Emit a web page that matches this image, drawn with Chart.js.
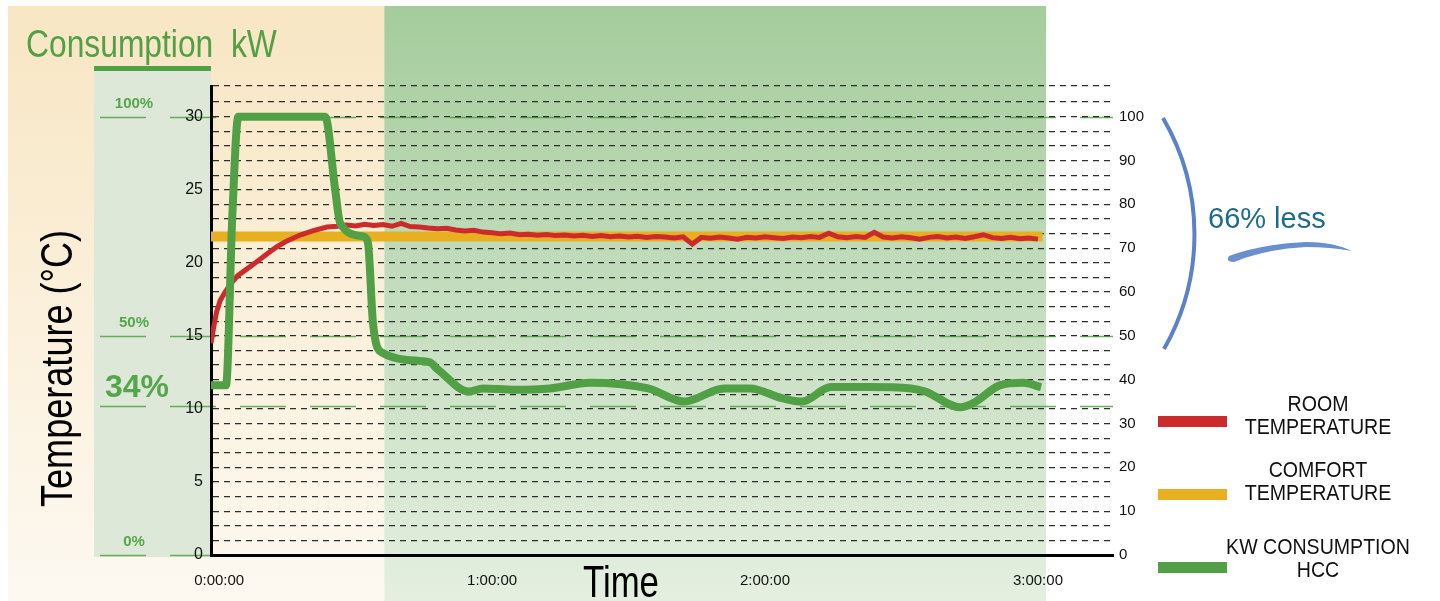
<!DOCTYPE html>
<html>
<head>
<meta charset="utf-8">
<title>Consumption kW</title>
<script src="https://cdn.jsdelivr.net/npm/chart.js@4.4.1/dist/chart.umd.min.js"></script>
<style>
  html, body { margin: 0; padding: 0; background: #fff; }
  #wrap { position: relative; width: 1440px; height: 601px; overflow: hidden;
          font-family: "Liberation Sans", Arial, sans-serif; }
  #wrap canvas { position: absolute; left: 0; top: 0; }
  .txt { position: absolute; white-space: pre; line-height: 1; }
  #kwTitle { left: 26px; top: 24px; font-size: 39px; color: #52a046;
             transform-origin: 0 0; transform: scaleX(0.815); }
  #tempTitle { left: 35px; top: 507px; font-size: 44px; color: #000;
               transform-origin: 0 0; transform: rotate(-90deg) scaleX(0.82); }
  #timeTitle { left: 583px; top: 560px; font-size: 44px; color: #000;
               transform-origin: 0 0; transform: scaleX(0.79); }
  #saving { left: 1208px; top: 204px; font-size: 29px; color: #1d6b8d; }
  .lvl { color: #55a64a; font-weight: bold; transform: translateX(-50%); }
  .legText { position: absolute; left: 1318px; font-size: 22px; line-height: 23px; color: #111;
             text-align: center; white-space: nowrap; transform: translateX(-50%) scaleX(0.89); }
  .legBar { position: absolute; left: 1158px; width: 69px; height: 11px; }
  svg { position: absolute; left: 0; top: 0; pointer-events: none; }
</style>
</head>
<body>
<div id="wrap">
  <canvas id="chart" width="1440" height="601"></canvas>
  <div class="txt" id="kwTitle">Consumption  kW</div>
  <div class="txt" id="tempTitle">Temperature (°C)</div>
  <div class="txt" id="timeTitle">Time</div>
  <div class="txt" id="saving">66% less</div>
  <svg width="1440" height="601">
    <path d="M1163 118 A231 231 0 0 1 1164 349" fill="none" stroke="#5b82c6" stroke-width="4"/>
    <path d="M1229 256 Q1262 244 1306 242 Q1334 242 1352 251 Q1330 247 1306 247 Q1266 249 1234 262 Q1225 262 1229 256 Z" fill="#6a8fcf"/>
  </svg>
</div>
<script>
// time in minutes from start
const timeTicks = [0, 60, 120, 180];
const tempLabels = [0, 5, 10, 15, 20, 25, 30];
const pctLabels = [0, 10, 20, 30, 40, 50, 60, 70, 80, 90, 100];
const tempMax = 32.1;
const pctMax = tempMax / 30 * 100; // 30 ºC on the left = 100 % on the right

// consumption levels marked in the kW panel
const levelValues = [100, 50, 34, 0];
const levelLabels = ['100%', '50%', '34%', '0%'];

// shaded period after heat-up
const savingsFrom = 36.3;
const savingsTo = 181.8;

// kW consumption HCC (% of max)
const consTime = [-1.8, 1.5, 2.9, 4.2, 23.3, 25.5, 26.6, 31.6, 32.7, 33.8, 35.6, 46.2, 48.1, 54.9, 58.0,
  64.8, 72.7, 81.5, 94.3, 102.2, 111.0, 116.7, 123.7, 128.1, 134.5, 142.4, 152.1, 155.2, 162.9, 165.9,
  171.6, 176.7, 180.7];
const consPct = [38.7, 38.7, 77.7, 100, 100, 83.3, 75.7, 72.7, 71.3, 53.0, 46.3, 44.0, 42.3, 37.3, 38.0,
  37.7, 38.0, 39.3, 38.0, 35.0, 38.0, 38.0, 35.8, 35.0, 38.3, 38.3, 38.0, 37.3, 33.7, 34.7,
  38.7, 39.3, 38.3];

// room temperature (ºC)
const roomTime = [-1.8, -1.2, -0.6, 0.2, 1.3, 2.4, 4, 6.2, 8.4, 10.5, 12.7, 14.9, 17.8, 20.7, 23.7,
  26, 28, 30, 32, 34, 36, 38, 40, 42, 44, 46, 48, 50, 52, 54, 56, 58, 60, 62, 64, 66, 68, 70, 72, 74,
  76, 78, 80, 82, 84, 86, 88, 90, 92, 94, 96, 98, 100, 102, 104, 106, 108, 110, 112, 114, 116, 118,
  120, 122, 124, 126, 128, 130, 132, 134, 136, 138, 140, 142, 144, 146, 148, 150, 152, 154, 156, 158,
  160, 162, 164, 166, 168, 170, 172, 174, 176, 178, 180];
const roomTemp = [14.5, 15.6, 16.6, 17.4, 18.0, 18.5, 19.1, 19.6, 20.1, 20.6, 21.1, 21.5, 21.9, 22.2, 22.45,
  22.50, 22.58, 22.52, 22.63, 22.55, 22.62, 22.50, 22.70, 22.48, 22.45, 22.38, 22.33, 22.36, 22.25, 22.18,
  22.22, 22.10, 22.06, 21.98, 22.04, 21.92, 21.96, 21.88, 21.94, 21.86, 21.90, 21.84, 21.88, 21.80, 21.86,
  21.78, 21.84, 21.76, 21.82, 21.74, 21.80, 21.76, 21.70, 21.78, 21.28, 21.74, 21.68, 21.76, 21.70, 21.62,
  21.74, 21.70, 21.78, 21.72, 21.66, 21.76, 21.72, 21.80, 21.74, 22.02, 21.78, 21.72, 21.80, 21.74, 22.08,
  21.76, 21.70, 21.78, 21.72, 21.62, 21.74, 21.80, 21.70, 21.76, 21.66, 21.78, 21.92, 21.72, 21.66, 21.74,
  21.64, 21.70, 21.62];

// comfort temperature (ºC)
const comfortTime = [-1.8, 181];
const comfortTemp = [21.8, 21.8];

const legendItems = [
  { lines: ['ROOM', 'TEMPERATURE'], color: '#cc2b2b', top: 392, bar: 416 },
  { lines: ['COMFORT', 'TEMPERATURE'], color: '#e8b020', top: 458, bar: 489 },
  { lines: ['KW CONSUMPTION', 'HCC'], color: '#52a046', top: 535, bar: 562 }
];

const pts = (xs, ys) => xs.map((x, i) => ({ x: x, y: ys[i] }));
const fmtTime = v => Math.floor(v / 60) + ':' + String(v % 60).padStart(2, '0') + ':00';

Chart.defaults.font.family = '"Liberation Sans", Arial, sans-serif';

// panels, gradients and the dashed consumption levels behind the grid
const backdrop = {
  id: 'backdrop',
  beforeDraw(chart) {
    const { ctx, chartArea: a, scales } = chart;
    const gx = scales.x.getPixelForValue(savingsFrom);
    const gx2 = scales.x.getPixelForValue(savingsTo);
    const h = chart.height;
    ctx.save();
    ctx.fillStyle = '#fff';
    ctx.fillRect(0, 0, chart.width, h);

    let g = ctx.createLinearGradient(0, 6, 0, h);
    g.addColorStop(0, '#f8e6c3');
    g.addColorStop(1, '#fdf9f1');
    ctx.fillStyle = g;
    ctx.fillRect(8, 6, gx - 8, h - 6);

    g = ctx.createLinearGradient(0, 6, 0, h);
    g.addColorStop(0, '#a5cc9c');
    g.addColorStop(1, '#e4efe0');
    ctx.fillStyle = g;
    ctx.fillRect(gx, 6, gx2 - gx, h - 6);

    ctx.fillStyle = '#dde8d8';
    ctx.fillRect(94, 71, a.left - 94, a.bottom + 2 - 71);
    ctx.fillStyle = '#52a046';
    ctx.fillRect(94, 66, a.left - 94, 5);

    ctx.strokeStyle = 'rgba(82,160,70,0.85)';
    ctx.lineWidth = 1.5;
    ctx.setLineDash([46, 24]);
    levelValues.forEach(v => {
      const y = Math.round(scales.pct.getPixelForValue(v)) + 0.5;
      ctx.beginPath();
      ctx.moveTo(100, y);
      ctx.lineTo(a.right, y);
      ctx.stroke();
    });
    ctx.restore();
  }
};

const chart = new Chart(document.getElementById('chart'), {
  type: 'line',
  data: {
    datasets: [{
      label: 'KW CONSUMPTION HCC',
      data: pts(consTime, consPct),
      yAxisID: 'pct',
      borderColor: '#52a046',
      borderWidth: 8,
      pointRadius: 0,
      cubicInterpolationMode: 'monotone'
    }, {
      label: 'ROOM TEMPERATURE',
      data: pts(roomTime, roomTemp),
      yAxisID: 'y',
      borderColor: '#cc2b2b',
      borderWidth: 5,
      pointRadius: 0
    }, {
      label: 'COMFORT TEMPERATURE',
      data: pts(comfortTime, comfortTemp),
      yAxisID: 'y',
      borderColor: '#e8b020',
      borderWidth: 10,
      borderCapStyle: 'butt',
      pointRadius: 0
    }]
  },
  options: {
    responsive: false,
    animation: false,
    events: [],
    layout: { padding: { top: 86, left: 0, right: 0, bottom: 0 } },
    plugins: { legend: { display: false }, tooltip: { enabled: false } },
    scales: {
      x: {
        type: 'linear',
        min: -1.8,
        max: 196.5,
        grid: { display: false, drawTicks: false },
        border: { color: '#000', width: 3 },
        ticks: { color: '#111', font: { size: 15 }, padding: 17, maxRotation: 0, callback: v => fmtTime(v) },
        afterBuildTicks: s => { s.ticks = timeTicks.map(v => ({ value: v })); },
        afterFit: s => { s.height = 46; }
      },
      y: {
        position: 'left',
        min: 0,
        max: tempMax,
        grid: { color: '#2e2e2e', lineWidth: 1.2, drawTicks: false },
        border: { color: '#000', width: 3, dash: [6, 5] },
        ticks: {
          stepSize: 1, autoSkip: false, color: '#111', font: { size: 16 }, padding: 8,
          callback: v => tempLabels.includes(v) ? String(v) : ''
        },
        afterFit: s => { s.width = 211; }
      },
      pct: {
        position: 'right',
        min: 0,
        max: pctMax,
        grid: { display: false, drawTicks: false },
        border: { display: false },
        ticks: {
          stepSize: 10, autoSkip: false, color: '#111', font: { size: 15 }, padding: 6,
          callback: v => pctLabels.includes(v) ? String(v) : null
        },
        afterFit: s => { s.width = 327; }
      }
    }
  },
  plugins: [backdrop]
});

// percentage labels sit just above their level lines
const wrap = document.getElementById('wrap');
levelValues.forEach((v, i) => {
  const fs = levelLabels[i] === '34%' ? 32 : 15;
  const y = chart.scales.pct.getPixelForValue(v);
  const el = document.createElement('div');
  el.className = 'txt lvl';
  el.textContent = levelLabels[i];
  el.style.fontSize = fs + 'px';
  el.style.left = (fs > 20 ? 137 : 134) + 'px';
  el.style.top = (y - 9 - 0.8465 * fs) + 'px';
  wrap.appendChild(el);
});

// legend
legendItems.forEach(item => {
  const bar = document.createElement('div');
  bar.className = 'legBar';
  bar.style.top = item.bar + 'px';
  bar.style.background = item.color;
  wrap.appendChild(bar);
  const t = document.createElement('div');
  t.className = 'legText';
  t.style.top = item.top + 'px';
  t.innerHTML = item.lines.join('<br>');
  wrap.appendChild(t);
});
</script>
</body>
</html>
